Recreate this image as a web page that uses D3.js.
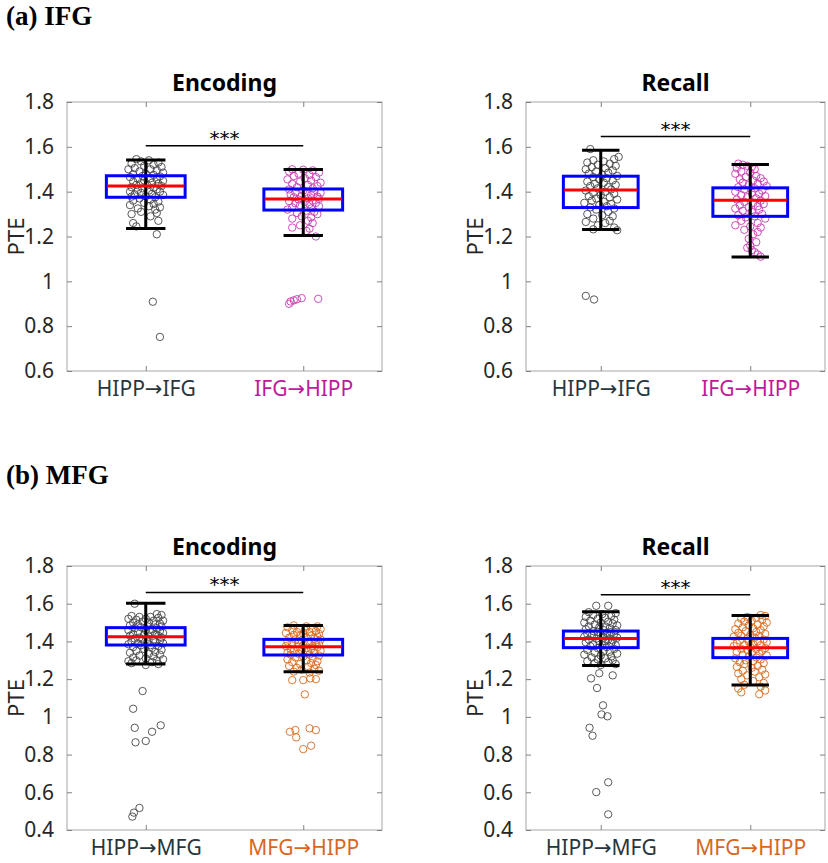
<!DOCTYPE html>
<html><head><meta charset="utf-8">
<script src="https://cdn.jsdelivr.net/npm/d3@7"></script>
<style>body{margin:0;background:#fff}</style>
</head><body>
<svg id="chart" width="828" height="863"></svg>
<script>
// ---------- DATA ----------
const sectionLabels = ["(a) IFG", "(b) MFG"];
const panelTitles = ["Encoding", "Recall", "Encoding", "Recall"];
const categoriesIFG = [["HIPP", "IFG"], ["IFG", "HIPP"]];
const categoriesMFG = [["HIPP", "MFG"], ["MFG", "HIPP"]];
const arrowGlyph = "→";
const yTicksIFG = [0.6, 0.8, 1.0, 1.2, 1.4, 1.6, 1.8];
const yTicksMFG = [0.4, 0.6, 0.8, 1.0, 1.2, 1.4, 1.6, 1.8];
const yDomainIFG = [0.6, 1.8];
const yDomainMFG = [0.4, 1.8];
const sigLabel = "***";
// box stats: [whiskerLow, q1, median, q3, whiskerHigh]
const statsIFGEnc = [[1.236, 1.375, 1.425, 1.471, 1.541], [1.205, 1.318, 1.367, 1.412, 1.499]];
const statsIFGRec = [[1.231, 1.329, 1.407, 1.469, 1.585], [1.109, 1.290, 1.362, 1.417, 1.521]];
const statsMFGEnc = [[1.280, 1.381, 1.425, 1.473, 1.602], [1.239, 1.328, 1.372, 1.411, 1.485]];
const statsMFGRec = [[1.273, 1.367, 1.416, 1.455, 1.558], [1.169, 1.314, 1.367, 1.416, 1.538]];
// significance bar heights
const sigBarY = [1.605, 1.646, 1.660, 1.648];
// points: [PTE value, horizontal jitter in category units]
const ptsIFGEncHipp = [[1.545,-0.06],[1.54,0.02],[1.535,-0.03],[1.53,0.08],[1.525,-0.09],[1.52,0.05],[1.515,-0.01],[1.51,0.10],[1.505,-0.07],[1.50,0.03],[1.50,-0.11],[1.495,0.07],[1.49,-0.04],[1.485,0.11],[1.48,0.00],[1.478,-0.08],[1.475,0.05],[1.47,-0.02],[1.468,0.09],[1.465,-0.10],[1.46,0.03],[1.458,-0.05],[1.455,0.07],[1.45,-0.01],[1.448,0.11],[1.445,-0.08],[1.44,0.04],[1.438,-0.03],[1.435,0.08],[1.43,-0.06],[1.428,0.01],[1.425,0.10],[1.42,-0.09],[1.418,0.05],[1.415,-0.02],[1.41,0.07],[1.408,-0.05],[1.405,0.02],[1.40,-0.10],[1.40,0.09],[1.395,-0.03],[1.39,0.04],[1.388,-0.07],[1.385,0.11],[1.38,0.00],[1.378,-0.09],[1.375,0.06],[1.37,-0.04],[1.365,0.03],[1.36,-0.08],[1.355,0.08],[1.35,-0.01],[1.345,0.05],[1.34,-0.10],[1.335,0.02],[1.33,0.09],[1.325,-0.05],[1.32,0.06],[1.31,-0.03],[1.305,0.07],[1.30,-0.09],[1.29,0.03],[1.27,0.08],[1.26,-0.08],[1.245,-0.06],[1.21,0.07],[0.909,0.045],[0.752,0.09]];
const ptsIFGEncIfg = [[1.50,-0.07],[1.498,0.00],[1.495,0.06],[1.49,-0.09],[1.485,0.10],[1.48,-0.03],[1.475,0.04],[1.47,-0.06],[1.465,0.08],[1.46,0.01],[1.455,-0.10],[1.45,0.05],[1.445,-0.02],[1.44,0.11],[1.435,-0.07],[1.43,0.03],[1.425,0.09],[1.42,-0.04],[1.415,0.06],[1.41,-0.09],[1.405,0.00],[1.40,0.07],[1.398,-0.05],[1.395,0.11],[1.39,0.02],[1.388,-0.08],[1.385,0.05],[1.38,-0.01],[1.378,0.09],[1.375,-0.06],[1.37,0.03],[1.368,0.10],[1.365,-0.03],[1.36,0.06],[1.358,-0.09],[1.355,0.01],[1.35,0.08],[1.348,-0.05],[1.345,0.04],[1.34,-0.02],[1.335,0.10],[1.33,-0.07],[1.325,0.05],[1.32,-0.10],[1.315,0.02],[1.31,0.07],[1.305,-0.04],[1.30,0.09],[1.29,-0.01],[1.285,0.05],[1.28,-0.07],[1.27,0.03],[1.26,0.06],[1.25,-0.02],[1.24,-0.07],[1.235,0.04],[1.225,0.02],[1.20,0.08],[0.925,-0.01],[0.92,-0.04],[0.915,-0.06],[0.91,-0.08],[0.90,-0.09],[0.922,0.095]];
const ptsIFGRecHipp = [[1.59,-0.07],[1.555,0.12],[1.545,0.09],[1.54,-0.05],[1.535,0.02],[1.53,-0.09],[1.525,0.06],[1.52,-0.02],[1.515,0.10],[1.51,-0.06],[1.505,0.03],[1.50,-0.10],[1.495,0.08],[1.49,-0.03],[1.485,0.05],[1.48,-0.08],[1.475,0.01],[1.47,0.11],[1.465,-0.05],[1.46,0.04],[1.455,-0.01],[1.45,0.08],[1.445,-0.09],[1.44,0.02],[1.435,-0.04],[1.43,0.10],[1.425,-0.07],[1.42,0.05],[1.415,-0.02],[1.41,0.07],[1.405,-0.10],[1.40,0.03],[1.395,-0.05],[1.39,0.09],[1.385,0.00],[1.38,-0.08],[1.375,0.06],[1.37,-0.03],[1.365,0.11],[1.36,-0.06],[1.355,0.02],[1.35,-0.11],[1.345,0.07],[1.34,-0.01],[1.335,0.04],[1.33,-0.07],[1.325,0.09],[1.32,-0.03],[1.31,0.05],[1.30,-0.09],[1.295,0.01],[1.29,0.08],[1.28,-0.05],[1.27,0.06],[1.265,-0.10],[1.26,0.03],[1.25,-0.02],[1.24,0.09],[1.232,-0.05],[1.228,0.11],[0.935,-0.10],[0.919,-0.045]];
const ptsIFGRecIfg = [[1.525,-0.08],[1.52,-0.05],[1.515,-0.02],[1.51,0.01],[1.505,-0.09],[1.50,0.03],[1.49,-0.06],[1.485,0.00],[1.48,-0.10],[1.47,0.04],[1.465,-0.03],[1.46,0.07],[1.455,-0.07],[1.45,0.02],[1.445,0.09],[1.44,-0.05],[1.435,0.05],[1.43,-0.01],[1.425,0.11],[1.42,-0.08],[1.415,0.03],[1.41,-0.04],[1.405,0.08],[1.40,-0.10],[1.395,0.01],[1.39,0.06],[1.385,-0.06],[1.38,0.10],[1.375,-0.02],[1.37,0.04],[1.365,-0.09],[1.36,0.07],[1.355,-0.04],[1.35,0.02],[1.345,0.09],[1.34,-0.07],[1.335,0.05],[1.33,-0.01],[1.325,-0.10],[1.32,0.06],[1.315,-0.05],[1.31,0.01],[1.30,0.08],[1.295,-0.08],[1.29,0.03],[1.285,-0.03],[1.28,0.10],[1.27,-0.06],[1.26,0.05],[1.25,-0.10],[1.245,0.00],[1.24,0.07],[1.23,-0.04],[1.22,0.05],[1.21,0.02],[1.19,-0.01],[1.175,0.04],[1.16,0.00],[1.15,-0.02],[1.14,0.01],[1.13,0.03],[1.12,0.05],[1.11,0.07]];
const ptsMFGEncHipp = [[1.60,-0.07],[1.545,0.07],[1.54,0.10],[1.535,-0.09],[1.53,-0.04],[1.53,0.03],[1.525,0.08],[1.52,-0.11],[1.52,0.00],[1.515,-0.06],[1.51,0.05],[1.51,0.11],[1.505,-0.02],[1.50,-0.08],[1.50,0.02],[1.495,0.09],[1.49,-0.05],[1.49,0.06],[1.485,-0.10],[1.48,0.01],[1.48,0.10],[1.475,-0.03],[1.47,0.07],[1.47,-0.07],[1.465,0.04],[1.46,-0.11],[1.46,0.00],[1.455,0.09],[1.45,-0.05],[1.45,0.03],[1.445,0.11],[1.44,-0.08],[1.44,0.06],[1.435,-0.01],[1.43,0.08],[1.43,-0.10],[1.425,0.02],[1.42,-0.04],[1.42,0.10],[1.415,-0.07],[1.41,0.05],[1.41,-0.02],[1.405,0.09],[1.40,-0.09],[1.40,0.01],[1.395,0.06],[1.39,-0.05],[1.39,0.11],[1.385,-0.11],[1.38,0.03],[1.38,-0.03],[1.375,0.08],[1.37,-0.08],[1.365,0.04],[1.36,-0.01],[1.355,0.10],[1.35,-0.06],[1.345,0.06],[1.34,-0.10],[1.335,0.02],[1.33,0.09],[1.325,-0.04],[1.32,0.05],[1.315,-0.08],[1.31,0.00],[1.305,0.11],[1.30,-0.06],[1.30,0.07],[1.295,-0.11],[1.29,0.04],[1.285,-0.09],[1.28,0.08],[1.275,0.00],[1.137,-0.02],[1.043,-0.08],[0.955,0.095],[0.942,-0.07],[0.921,0.04],[0.872,0.00],[0.865,-0.065],[0.517,-0.04],[0.492,-0.075],[0.471,-0.085]];
const ptsMFGEncMfg = [[1.485,-0.06],[1.48,0.02],[1.48,0.09],[1.475,-0.10],[1.47,-0.02],[1.47,0.06],[1.465,0.11],[1.46,-0.07],[1.46,0.01],[1.455,0.08],[1.45,-0.04],[1.45,0.04],[1.445,-0.11],[1.44,0.00],[1.44,0.10],[1.435,-0.06],[1.43,0.05],[1.43,-0.02],[1.425,0.09],[1.42,-0.09],[1.42,0.02],[1.415,0.07],[1.41,-0.05],[1.41,0.11],[1.405,-0.01],[1.40,0.05],[1.40,-0.10],[1.395,0.08],[1.39,-0.03],[1.39,0.03],[1.385,-0.07],[1.385,0.10],[1.38,0.00],[1.375,-0.11],[1.375,0.06],[1.37,-0.04],[1.37,0.09],[1.365,0.02],[1.36,-0.08],[1.36,0.05],[1.355,-0.01],[1.35,0.11],[1.35,-0.06],[1.345,0.03],[1.34,-0.10],[1.34,0.07],[1.335,-0.03],[1.33,0.04],[1.33,-0.08],[1.325,0.10],[1.32,0.00],[1.315,-0.05],[1.31,0.06],[1.305,-0.10],[1.30,0.02],[1.295,0.09],[1.29,-0.07],[1.285,0.05],[1.28,-0.02],[1.275,0.08],[1.27,-0.09],[1.265,0.03],[1.26,-0.04],[1.255,0.07],[1.25,-0.01],[1.245,0.10],[1.24,-0.06],[1.235,0.04],[1.195,-0.07],[1.195,0.00],[1.204,0.045],[1.20,0.08],[1.119,0.01],[0.921,-0.085],[0.93,-0.05],[0.891,-0.045],[0.939,0.04],[0.93,0.08],[0.847,0.05],[0.829,0.00]];
const ptsMFGRecHipp = [[1.589,-0.03],[1.589,0.05],[1.555,-0.08],[1.55,0.10],[1.545,0.01],[1.54,-0.05],[1.535,0.07],[1.53,-0.10],[1.525,0.03],[1.52,-0.02],[1.515,0.09],[1.51,-0.07],[1.505,0.05],[1.50,-0.11],[1.50,0.00],[1.495,0.08],[1.49,-0.04],[1.485,0.11],[1.48,-0.08],[1.48,0.03],[1.475,-0.01],[1.47,0.06],[1.465,-0.10],[1.46,0.02],[1.46,0.10],[1.455,-0.05],[1.45,0.07],[1.45,-0.02],[1.445,0.04],[1.44,-0.09],[1.44,0.09],[1.435,0.00],[1.43,-0.06],[1.43,0.06],[1.425,-0.11],[1.42,0.02],[1.42,0.11],[1.415,-0.03],[1.41,0.05],[1.41,-0.08],[1.405,0.08],[1.40,-0.01],[1.40,0.03],[1.395,-0.10],[1.39,0.07],[1.385,-0.05],[1.38,0.01],[1.38,0.10],[1.375,-0.07],[1.37,0.04],[1.365,-0.02],[1.36,0.09],[1.355,-0.09],[1.35,0.02],[1.345,0.06],[1.34,-0.04],[1.335,0.11],[1.33,-0.11],[1.325,0.00],[1.32,0.07],[1.315,-0.06],[1.31,0.03],[1.305,-0.02],[1.30,0.08],[1.295,-0.09],[1.29,0.05],[1.285,-0.04],[1.28,0.10],[1.275,0.00],[1.231,-0.01],[1.204,-0.065],[1.22,0.08],[1.153,-0.025],[1.061,0.015],[1.013,0.005],[1.003,0.045],[0.942,-0.075],[0.90,-0.055],[0.653,0.05],[0.601,-0.03],[0.483,0.05]];
const ptsMFGRecMfg = [[1.54,0.07],[1.535,0.10],[1.53,-0.02],[1.525,0.04],[1.52,-0.06],[1.515,0.08],[1.51,0.01],[1.505,-0.04],[1.50,0.11],[1.495,-0.08],[1.49,0.05],[1.485,-0.01],[1.48,0.09],[1.475,-0.05],[1.47,0.02],[1.465,-0.10],[1.46,0.07],[1.455,-0.03],[1.45,0.04],[1.445,-0.08],[1.44,0.10],[1.435,0.00],[1.43,-0.06],[1.43,0.06],[1.425,-0.11],[1.42,0.03],[1.415,-0.02],[1.41,0.09],[1.405,-0.07],[1.40,0.05],[1.40,-0.01],[1.395,0.11],[1.39,-0.09],[1.385,0.02],[1.38,-0.04],[1.38,0.07],[1.375,-0.11],[1.37,0.00],[1.365,0.10],[1.36,-0.06],[1.36,0.04],[1.355,-0.02],[1.35,0.08],[1.345,-0.09],[1.34,0.01],[1.335,0.06],[1.33,-0.05],[1.325,0.11],[1.32,-0.01],[1.315,0.04],[1.31,-0.10],[1.305,0.07],[1.30,-0.03],[1.295,0.02],[1.29,-0.07],[1.285,0.09],[1.28,-0.04],[1.27,0.05],[1.265,-0.09],[1.26,0.01],[1.25,0.08],[1.245,-0.05],[1.24,0.03],[1.23,-0.08],[1.225,0.10],[1.22,-0.02],[1.21,0.06],[1.20,-0.06],[1.19,0.02],[1.18,0.09],[1.17,-0.04],[1.16,0.07],[1.15,-0.08],[1.14,0.10],[1.13,-0.06],[1.12,0.06]];

// ---------- STYLE / LAYOUT ----------
const C = {
  grayPt: "#474747", magentaPt: "#c83cb4", orangePt: "#d96a1c",
  grayLbl: "#26363c", magentaLbl: "#c0199c", orangeLbl: "#d9661f",
  box: "#0000ff", med: "#ff0000", whisk: "#000000", axis: "#a6a6a6", tick: "#262626"
};
const FONT = "'Noto Sans', 'DejaVu Sans', sans-serif";
const panels = [
  {x0: 67, x1: 382, y0: 102, y1: 371, title: panelTitles[0], cats: categoriesIFG, ticks: yTicksIFG, dom: yDomainIFG, stats: statsIFGEnc, pts: [ptsIFGEncHipp, ptsIFGEncIfg], colors: [C.grayPt, C.magentaPt], lcolors: [C.grayLbl, C.magentaLbl], sig: sigBarY[0]},
  {x0: 526, x1: 825, y0: 102, y1: 371, title: panelTitles[1], cats: categoriesIFG, ticks: yTicksIFG, dom: yDomainIFG, stats: statsIFGRec, pts: [ptsIFGRecHipp, ptsIFGRecIfg], colors: [C.grayPt, C.magentaPt], lcolors: [C.grayLbl, C.magentaLbl], sig: sigBarY[1]},
  {x0: 67, x1: 382, y0: 566, y1: 830, title: panelTitles[2], cats: categoriesMFG, ticks: yTicksMFG, dom: yDomainMFG, stats: statsMFGEnc, pts: [ptsMFGEncHipp, ptsMFGEncMfg], colors: [C.grayPt, C.orangePt], lcolors: [C.grayLbl, C.orangeLbl], sig: sigBarY[2]},
  {x0: 526, x1: 825, y0: 566, y1: 830, title: panelTitles[3], cats: categoriesMFG, ticks: yTicksMFG, dom: yDomainMFG, stats: statsMFGRec, pts: [ptsMFGRecHipp, ptsMFGRecMfg], colors: [C.grayPt, C.orangePt], lcolors: [C.grayLbl, C.orangeLbl], sig: sigBarY[3]}
];

const svg = d3.select("#chart");

// section labels
svg.selectAll("text.sec").data(sectionLabels).join("text")
  .attr("class", "sec")
  .attr("x", 6).attr("y", (d, i) => i === 0 ? 25 : 484)
  .attr("font-family", "'Liberation Serif', 'Times New Roman', serif")
  .attr("font-weight", "bold").attr("font-size", 27).attr("fill", "#000")
  .text(d => d);

panels.forEach(p => {
  const g = svg.append("g");
  const x = d3.scaleLinear().domain([0.5, 2.5]).range([p.x0, p.x1]);
  const y = d3.scaleLinear().domain(p.dom).range([p.y1, p.y0]);

  // frame
  g.append("rect").attr("x", p.x0).attr("y", p.y0).attr("width", p.x1 - p.x0).attr("height", p.y1 - p.y0)
    .attr("fill", "none").attr("stroke", C.axis).attr("stroke-width", 1);

  // y axis (left) with inward ticks
  const yAxisL = d3.axisLeft(y).tickValues(p.ticks).tickSize(-5).tickPadding(13)
    .tickFormat(d => d3.format("")(+d.toFixed(1)));
  const gl = g.append("g").attr("transform", `translate(${p.x0},0)`).call(yAxisL);
  gl.select(".domain").remove();
  gl.selectAll(".tick line").attr("stroke", "#808080");
  gl.selectAll(".tick text").attr("font-family", FONT).attr("font-size", 21).attr("fill", C.tick);
  const yAxisR = d3.axisRight(y).tickValues(p.ticks).tickSize(-5).tickFormat("");
  const gr = g.append("g").attr("transform", `translate(${p.x1},0)`).call(yAxisR);
  gr.select(".domain").remove();
  gr.selectAll(".tick line").attr("stroke", "#808080");

  // x axis (labels built with tspans so the arrow can use a wider glyph)
  const xAxisB = d3.axisBottom(x).tickValues([1, 2]).tickSize(-5).tickPadding(10).tickFormat("");
  const gb = g.append("g").attr("transform", `translate(0,${p.y1})`).call(xAxisB);
  gb.select(".domain").remove();
  gb.selectAll(".tick line").attr("stroke", "#808080");
  gb.selectAll(".tick text").each(function(d, i) {
    const t = d3.select(this).attr("font-family", FONT).attr("font-size", 21)
      .attr("fill", p.lcolors[i]).attr("dy", "0.72em");
    t.append("tspan").text(p.cats[i][0]);
    t.append("tspan").attr("font-family", "'DejaVu Sans', sans-serif").attr("font-size", 21).text(arrowGlyph);
    t.append("tspan").text(p.cats[i][1]);
  });
  const xAxisT = d3.axisTop(x).tickValues([1, 2]).tickSize(-5).tickFormat("");
  const gt = g.append("g").attr("transform", `translate(0,${p.y0})`).call(xAxisT);
  gt.select(".domain").remove();
  gt.selectAll(".tick line").attr("stroke", "#808080");

  // y label
  g.append("text").attr("transform", `translate(${p.x0 - 43},${(p.y0 + p.y1) / 2}) rotate(-90)`)
    .attr("text-anchor", "middle").attr("font-family", FONT).attr("font-size", 22).attr("fill", C.tick)
    .text("PTE");

  // title
  g.append("text").attr("x", (p.x0 + p.x1) / 2).attr("y", p.y0 - 11)
    .attr("text-anchor", "middle").attr("font-family", FONT).attr("font-weight", "bold")
    .attr("font-size", 23).attr("fill", "#000").text(p.title);

  // points
  p.pts.forEach((arr, ci) => {
    g.append("g").selectAll("circle").data(arr).join("circle")
      .attr("cx", d => x(ci + 1 + d[1])).attr("cy", d => y(d[0])).attr("r", 3.7)
      .attr("fill", "none").attr("stroke", p.colors[ci]).attr("stroke-width", 1).attr("stroke-opacity", 0.9);
  });

  // boxes
  p.stats.forEach((s, ci) => {
    const c = ci + 1;
    const [lo, q1, med, q3, hi] = s;
    g.append("line").attr("x1", x(c)).attr("x2", x(c)).attr("y1", y(lo)).attr("y2", y(hi))
      .attr("stroke", C.whisk).attr("stroke-width", 3);
    [lo, hi].forEach(v => g.append("line").attr("x1", x(c - 0.125)).attr("x2", x(c + 0.125))
      .attr("y1", y(v)).attr("y2", y(v)).attr("stroke", C.whisk).attr("stroke-width", 3));
    g.append("rect").attr("x", x(c - 0.25)).attr("width", x(c + 0.25) - x(c - 0.25))
      .attr("y", y(q3)).attr("height", y(q1) - y(q3))
      .attr("fill", "none").attr("stroke", C.box).attr("stroke-width", 3);
    g.append("line").attr("x1", x(c - 0.245)).attr("x2", x(c + 0.245)).attr("y1", y(med)).attr("y2", y(med))
      .attr("stroke", C.med).attr("stroke-width", 3);
  });

  // significance
  g.append("line").attr("x1", x(1)).attr("x2", x(2)).attr("y1", y(p.sig)).attr("y2", y(p.sig))
    .attr("stroke", "#000").attr("stroke-width", 1.5);
  g.append("text").attr("x", (x(1) + x(2)) / 2).attr("y", y(p.sig) - 1)
    .attr("text-anchor", "middle").attr("font-family", "'DejaVu Sans', sans-serif").attr("font-size", 20)
    .attr("fill", "#000").text(sigLabel);
});
</script>
</body></html>
